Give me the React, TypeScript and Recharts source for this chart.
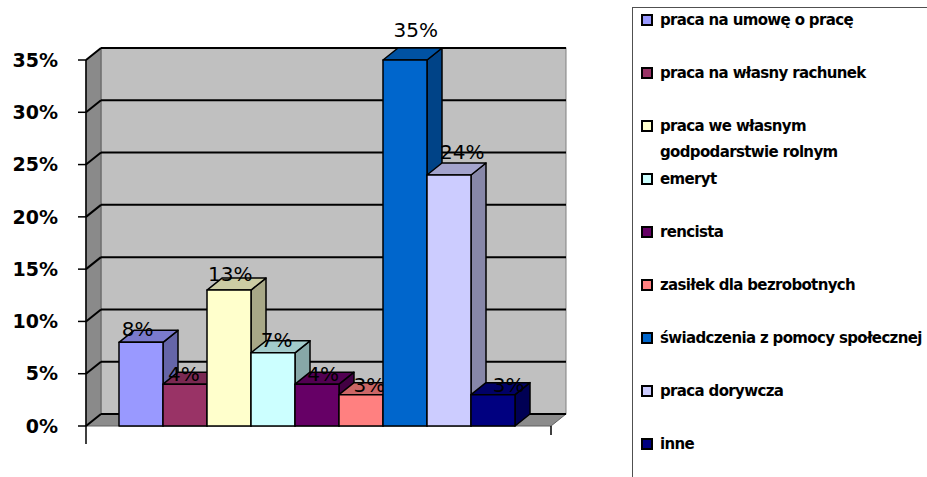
import React from 'react';
import { BarChart, Bar, XAxis, YAxis, ReferenceArea, ReferenceLine, Legend } from 'recharts';

// one category, nine series (each source of income is its own series)
const categories = [
  'praca na umowę o pracę',
  'praca na własny rachunek',
  'praca we własnym\ngodpodarstwie rolnym',
  'emeryt',
  'rencista',
  'zasiłek dla bezrobotnych',
  'świadczenia z pomocy społecznej',
  'praca dorywcza',
  'inne',
];
const values = [8, 4, 13, 7, 4, 3, 35, 24, 3];
const colors = ['#9999FF', '#993366', '#FFFFCC', '#CCFFFF', '#660066', '#FF8080', '#0066CC', '#CCCCFF', '#000080'];
const yTicks = [0, 5, 10, 15, 20, 25, 30, 35];

const rows = [
  categories.reduce((row: Record<string, any>, _c, i) => {
    row[`s${i}`] = values[i];
    return row;
  }, { name: 'all' }),
];

const DX = 15;
const DY = 12;
const FONT = '"DejaVu Sans", Verdana, sans-serif';

function shade(hex: string, k: number) {
  const n = parseInt(hex.slice(1), 16);
  const r = Math.round(((n >> 16) & 255) * k);
  const g = Math.round(((n >> 8) & 255) * k);
  const b = Math.round((n & 255) * k);
  return `rgb(${r},${g},${b})`;
}

function Bar3D(props: any) {
  const { x, y, width: w, height: h, fill } = props;
  const raw = Array.isArray(props.value) ? props.value[1] : props.value;
  if (w == null || h == null) return null;
  const lx = x + w / 2 + (x - 183) * 0.054;
  const ly = y - 0.06 * h - 1;
  return (
    <g stroke="#000" strokeWidth={1.5} strokeLinejoin="round">
      <polygon
        points={`${x + w},${y} ${x + w + DX},${y - DY} ${x + w + DX},${y + h - DY} ${x + w},${y + h}`}
        fill={shade(fill, 0.66)}
      />
      <polygon
        points={`${x},${y} ${x + DX},${y - DY} ${x + w + DX},${y - DY} ${x + w},${y}`}
        fill={shade(fill, 0.8)}
      />
      <rect x={x} y={y} width={w} height={h} fill={fill} />
      <text x={lx} y={ly} textAnchor="middle" fontFamily={FONT} fontSize={20} fill="#000" stroke="none">
        {`${raw}%`}
      </text>
    </g>
  );
}

function Walls(props: any) {
  const { x, y, width: w, height: h } = props;
  const b = y + h;
  return (
    <g>
      <rect x={x + DX} y={y - DY} width={w} height={h} fill="#c0c0c0" stroke="#808080" strokeWidth={1} />
      <polygon points={`${x},${b} ${x},${y} ${x + DX},${y - DY} ${x + DX},${b - DY}`} fill="#8a8a8a" stroke="#606060" strokeWidth={1} />
      <polygon points={`${x},${b} ${x + w},${b} ${x + w + DX},${b - DY} ${x + DX},${b - DY}`} fill="#8c8c8c" stroke="#606060" strokeWidth={1} />
      <line x1={x} y1={b} x2={x} y2={b + 18} stroke="#000" strokeWidth={1.5} />
      <line x1={x + w} y1={b} x2={x + w} y2={b + 9} stroke="#000" strokeWidth={1.5} />
    </g>
  );
}

function GridLine(props: any) {
  const { x1, y1, x2, y2 } = props;
  if (x1 == null) return null;
  return (
    <g stroke="#000" strokeWidth={2}>
      <line x1={x1} y1={y1} x2={x1 + DX} y2={y1 - DY} />
      <line x1={x1 + DX} y1={y1 - DY} x2={x2 + DX} y2={y2 - DY} />
    </g>
  );
}

function LegendBox({ payload }: any) {
  // keep the series order, not the alphabetical one
  const items = categories.map((c, i) => {
    const p = (payload || []).find((e: any) => e.dataKey === `s${i}`);
    return { value: c, color: p ? p.color : colors[i] };
  });
  return (
    <div
      style={{
        width: 340,
        height: 480,
        boxSizing: 'border-box',
        border: '1px solid #505050',
        fontFamily: FONT,
        fontSize: 15,
        fontWeight: 'bold',
        letterSpacing: '-0.65px',
        color: '#000',
        paddingLeft: 8,
      }}
    >
      <div style={{ position: 'relative', top: -1 }}>
        {items.map((e, i) => (
          <div key={i} style={{ height: 53, display: 'flex', alignItems: 'flex-start' }}>
            <span
              style={{
                width: 8,
                height: 8,
                marginTop: 7,
                marginRight: 7,
                border: '2px solid #000',
                background: e.color,
                flex: 'none',
              }}
            />
            <span style={{ whiteSpace: 'pre', lineHeight: '26px' }}>{e.value}</span>
          </div>
        ))}
      </div>
    </div>
  );
}

export default function App() {
  return (
    <div style={{ position: 'absolute', left: 0, top: 0, width: 927, height: 477, overflow: 'hidden', background: '#fff' }}>
      <BarChart
        width={927}
        height={477}
        data={rows}
        margin={{ top: 60, right: 376, bottom: 51, left: 0 }}
        barCategoryGap={33}
        barGap={0}
      >
        <ReferenceArea y1={0} y2={35} ifOverflow="visible" shape={Walls} zIndex={-20} />
        {yTicks.map((t) => (
          <ReferenceLine key={t} y={t} ifOverflow="visible" shape={GridLine} zIndex={-10} />
        ))}
        <XAxis dataKey="name" height={0} tick={false} tickLine={false} axisLine={{ stroke: '#000', strokeWidth: 1.5 }} />
        <YAxis
          width={86}
          domain={[0, 35]}
          ticks={yTicks}
          interval={0}
          tickFormatter={(v) => `${v}%`}
          tickSize={8}
          tickMargin={20}
          axisLine={{ stroke: '#000', strokeWidth: 1.5 }}
          tickLine={{ stroke: '#000', strokeWidth: 1.5 }}
          tick={{ fill: '#000', fontSize: 19, fontWeight: 'bold', fontFamily: FONT }}
        />
        {categories.map((c, i) => (
          <Bar key={c} dataKey={`s${i}`} name={c} fill={colors[i]} shape={Bar3D} isAnimationActive={false} />
        ))}
        <Legend
          layout="vertical"
          verticalAlign="middle"
          align="center"
          wrapperStyle={{ left: 632, top: 7, width: 340, height: 480 }}
          content={LegendBox}
        />
      </BarChart>
    </div>
  );
}
